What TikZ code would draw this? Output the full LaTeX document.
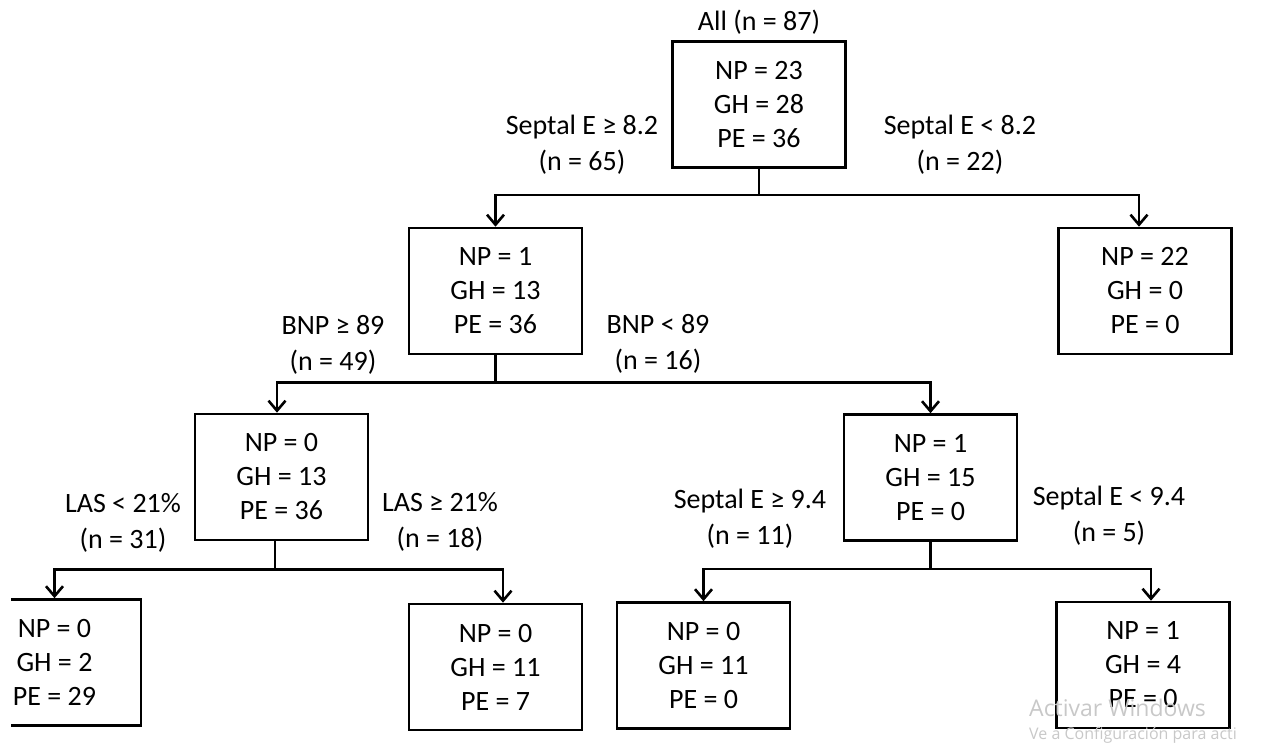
\documentclass[tikz,border=0pt]{standalone}
\usepackage{fontspec}
\setmainfont{Carlito}
\newfontfamily\wmfont{Open Sans}
\usetikzlibrary{arrows.meta}
\definecolor{wm}{RGB}{200,200,200}
\begin{document}
\begin{tikzpicture}[x=1pt,y=-1pt,
  box/.style={draw, line width=2.6pt, minimum width=173pt, minimum height=126pt, inner sep=0pt, align=center, font=\fontsize{28}{34}\selectfont},
  lab/.style={align=center, font=\fontsize{28}{36}\selectfont, inner sep=0pt},
  link/.style={line width=2.6pt},
  arr/.style={link, -{Straight Barb[length=10pt,width=17pt]}},
  wmtext/.style={anchor=west, text=wm, inner sep=0pt}
]
\useasboundingbox (0,0) rectangle (1269,745);
% boxes
\node[box] (root) at (759,104.5) {NP = 23\\GH = 28\\PE = 36};
\node[box] (n1) at (495.5,291) {NP = 1\\GH = 13\\PE = 36};
\node[box] (n2) at (1145,291) {NP = 22\\GH = 0\\PE = 0};
\node[box] (n3) at (281.5,477) {NP = 0\\GH = 13\\PE = 36};
\node[box] (n4) at (930.5,477.5) {NP = 1\\GH = 15\\PE = 0};
\begin{scope}
\clip (11,0) rectangle (1269,745);
\node[box] (ll) at (54.5,662.5) {NP = 0\\GH = 2\\PE = 29};
\end{scope}
\node[box] (lr) at (495.5,667) {NP = 0\\GH = 11\\PE = 7};
\node[box] (rl) at (703.5,665.5) {NP = 0\\GH = 11\\PE = 0};
\node[box] (rr) at (1143,665) {NP = 1\\GH = 4\\PE = 0};
% labels
\node[lab] (all) at (759,22) {All (n = 87)};
\node[lab] (l0a) at (582,145) {Septal E ≥ 8.2\\(n = 65)};
\node[lab] (l0b) at (960,145) {Septal E < 8.2\\(n = 22)};
\node[lab] (l1a) at (333,345) {BNP ≥ 89\\(n = 49)};
\node[lab] (l1b) at (658,344) {BNP < 89\\(n = 16)};
\node[lab] (l3a) at (123,523) {LAS < 21\%\\(n = 31)};
\node[lab] (l3b) at (440,522) {LAS ≥ 21\%\\(n = 18)};
\node[lab] (l4a) at (750,519) {Septal E ≥ 9.4\\(n = 11)};
\node[lab] (l4b) at (1109,516) {Septal E < 9.4\\(n = 5)};
% connectors
\draw[link] (root.south) -- ++(0,26) coordinate (j0);
\draw[arr] (j0) -| (n1.north);
\draw[arr] (j0) -| ([xshift=-6pt]n2.north);
\draw[link] (n1.south) -- ++(0,27) coordinate (j1);
\draw[arr] (j1) -| ([xshift=-4.5pt]n3.north);
\draw[arr] (j1) -| (n4.north);
\draw[link] ([xshift=-6.5pt]n3.south) -- ++(0,28) coordinate (j3);
\draw[arr] (j3) -| (ll.north);
\draw[arr] (j3) -| ([xshift=7.5pt]lr.north);
\draw[link] (n4.south) -- ++(0,27) coordinate (j4);
\draw[arr] (j4) -| (rl.north);
\draw[arr] (j4) -| ([xshift=8pt]rr.north);
% watermark
\node[wmtext, font=\wmfont\fontsize{23}{23}\selectfont] (wm1) at (1029,708) {Activar Windows};
\node[wmtext, font=\wmfont\fontsize{16}{16}\selectfont] (wm2) at (1029,735) {Ve a Configuración para acti};
\end{tikzpicture}
\end{document}
